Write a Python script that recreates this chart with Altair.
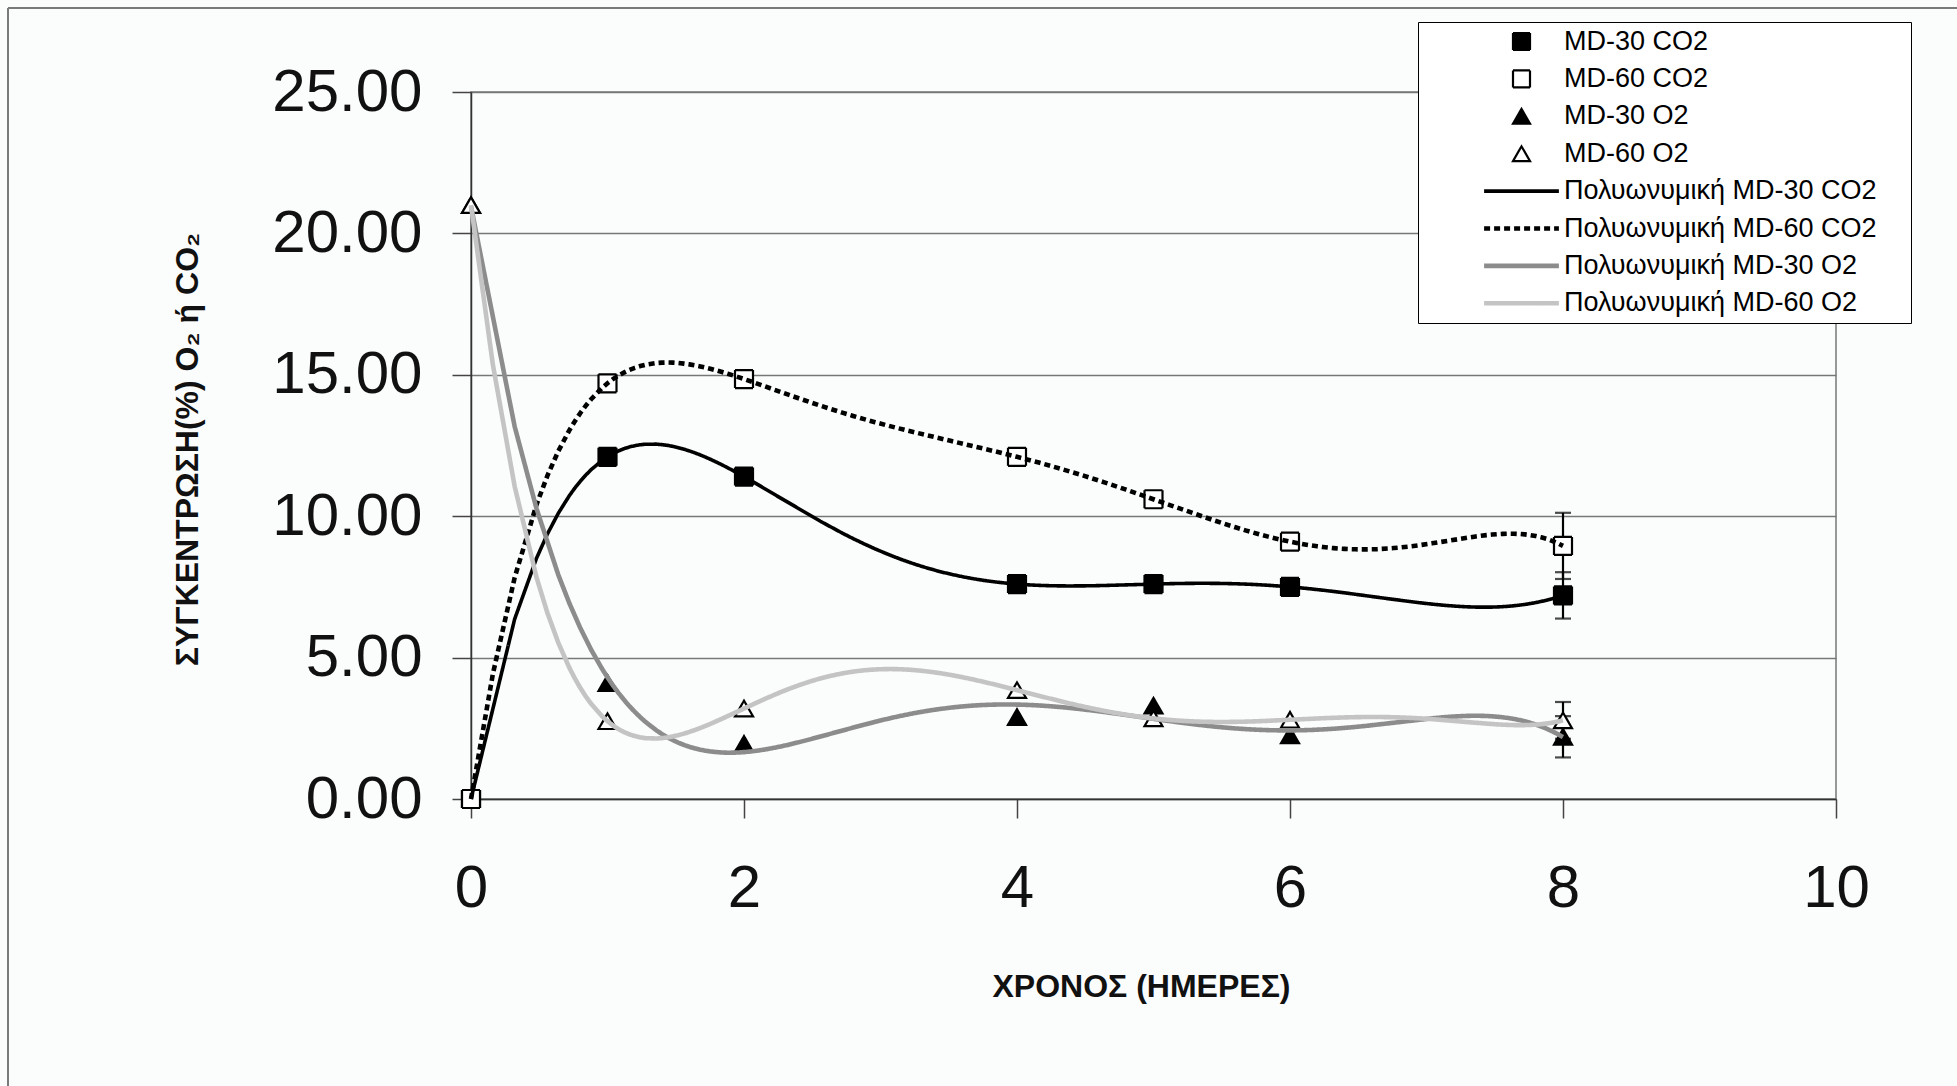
import altair as alt
import pandas as pd

# Measurement days and gas concentrations (%) for the two packaging films
days = [0, 1, 2, 4, 5, 6, 8]
md30_co2 = [0.0, 12.1, 11.4, 7.6, 7.6, 7.5, 7.2]
md60_co2 = [0.0, 14.7, 14.85, 12.1, 10.6, 9.1, 8.95]
md30_o2 = [21.0, 4.1, 1.95, 2.9, 3.3, 2.25, 2.2]
md60_o2 = [21.0, 2.75, 3.2, 3.85, 2.85, 2.8, 2.78]

# standard deviation, reported for the last day only
err_last_day = {"MD-30 CO2": 0.82, "MD-60 CO2": 1.17, "MD-30 O2": 0.73, "MD-60 O2": 0.65}

series_names = ["MD-30 CO2", "MD-60 CO2", "MD-30 O2", "MD-60 O2"]
series_values = [md30_co2, md60_co2, md30_o2, md60_o2]
trend_names = ["Πολυωνυμική " + s for s in series_names]
poly_order = {"MD-30 CO2": 6, "MD-60 CO2": 6, "MD-30 O2": 5, "MD-60 O2": 6}

rows = []
for name, vals in zip(series_names, series_values):
    for d, v in zip(days, vals):
        rows.append({"series": name, "day": d, "value": v,
                     "err": err_last_day[name] if d == days[-1] else 0.0})
df = pd.DataFrame(rows)

ALL = series_names + trend_names
# trend entries in the legend are drawn as a horizontal stroke
line_glyph = "M-4.4,0H4.4"
shape_range = ["square", "square", "triangle-up", "triangle-up"] + [line_glyph] * 4
fill_range = ["black", "white", "black", "white"] + ["transparent"] * 4
stroke_range = ["black"] * 4 + ["black", "black", "#8c8c8c", "#c4c4c4"]
dash_range = [[1, 0]] * 4 + [[1, 0], [6, 4], [1, 0], [1, 0]]
width_range = [2.2] * 4 + [3.6, 4.6, 4.6, 4.6]

FONT = "Liberation Sans"
X_TITLE = "ΧΡΟΝΟΣ (ΗΜΕΡΕΣ)"
Y_TITLE = "ΣΥΓΚΕΝΤΡΩΣΗ(%) O₂ ή CO₂"

# a trailing blank glyph keeps some room between the labels and the legend border
leg = alt.Legend(
    title=None, orient="none", legendX=947, legendY=-70,
    strokeColor="black", fillColor="white", padding=6,
    labelFont=FONT, labelFontSize=27, labelColor="black", labelLimit=0,
    labelExpr="datum.label + '\u00a0\u2800'",
    symbolOffset=84, labelOffset=29, rowPadding=9.4, symbolSize=289,
)

x_scale = alt.Scale(domain=[0, 10], nice=False, zero=False)
y_scale = alt.Scale(domain=[0, 25], nice=False)

x_axis = alt.Axis(
    values=[0, 2, 4, 6, 8, 10], format="d", grid=False,
    labelFont=FONT, labelFontSize=60, labelColor="#111", labelPadding=70,
    labelBaseline="middle", labelFlush=False, labelOverlap=False,
    tickSize=19, tickColor="#444", tickWidth=1.5,
    domainColor="#333", domainWidth=1.5,
    titleFont=FONT, titleFontSize=32, titleFontWeight="bold", titleColor="#111",
    titleX=670, titleY=187, titleAlign="center", titleBaseline="middle",
)
y_axis = alt.Axis(
    values=[0, 5, 10, 15, 20, 25], format=".2f", grid=True,
    gridColor="#777", gridWidth=1.5,
    labelFont=FONT, labelFontSize=60, labelColor="#111", labelPadding=30,
    labelBaseline="middle", labelFlush=False, labelOverlap=False,
    tickSize=19, tickColor="#444", tickWidth=1.5,
    domainColor="#333", domainWidth=1.5,
    titleFont=FONT, titleFontSize=32, titleFontWeight="bold", titleColor="#111",
    titleAngle=270, titleX=-284, titleY=357, titleAlign="center", titleBaseline="middle",
)


def xy(yfield="value"):
    return dict(
        x=alt.X("day:Q", scale=x_scale, axis=x_axis, title=X_TITLE),
        y=alt.Y(f"{yfield}:Q", scale=y_scale, axis=y_axis, title=Y_TITLE),
    )


def ordinal(rng):
    return alt.Scale(type="ordinal", domain=ALL, range=rng)


def style_channels(with_markers):
    enc = dict(
        stroke=alt.Stroke("series:N", scale=ordinal(stroke_range), legend=leg),
        strokeDash=alt.StrokeDash("series:N", scale=ordinal(dash_range), legend=leg),
        strokeWidth=alt.StrokeWidth("series:N", scale=ordinal(width_range), legend=leg),
    )
    if with_markers:
        enc["shape"] = alt.Shape("series:N", scale=ordinal(shape_range), legend=leg)
        enc["fill"] = alt.Fill("series:N", scale=ordinal(fill_range), legend=leg)
    return enc


base = alt.Chart(df)

# error bars on the final measurement
errbars = (
    base.transform_filter("datum.err > 0")
    .transform_calculate(lo="datum.value - datum.err", hi="datum.value + datum.err")
    .mark_errorbar(ticks={"size": 16, "thickness": 2.2}, rule={"strokeWidth": 2.2}, color="black")
    .encode(
        x=alt.X("day:Q", scale=x_scale, axis=x_axis, title=X_TITLE),
        y=alt.Y("lo:Q", scale=y_scale, axis=y_axis, title=Y_TITLE),
        y2=alt.Y2("hi:Q"),
    )
)

points = base.mark_point(size=324, opacity=1).encode(**xy(), **style_channels(True))

# polynomial trend line per series
trends = []
for name in series_names:
    trends.append(
        base.transform_filter(alt.datum.series == name)
        .transform_regression("day", "value", method="poly", order=poly_order[name],
                              extent=[0, 8], groupby=["series"])
        .transform_calculate(series="'Πολυωνυμική ' + datum.series")
        .mark_line(strokeCap="butt")
        .encode(**xy(), **style_channels(False))
    )

# chart-area border (top and left edges)
frame_src = alt.Data(values=[{"edge": "frame"}])
frame_left = alt.Chart(frame_src).mark_rule(color="#7a7a7a", strokeWidth=2).encode(
    x=alt.value(-463), y=alt.value(-84), y2=alt.value(994))
frame_top = alt.Chart(frame_src).mark_rule(color="#7a7a7a", strokeWidth=2).encode(
    x=alt.value(-463), x2=alt.value(1486), y=alt.value(-84))

chart = (
    alt.layer(errbars, points, *trends, frame_left, frame_top)
    .properties(
        width=1365, height=707,
        autosize=alt.AutoSizeParams(type="none"),
        padding={"left": 471, "top": 92, "right": 121, "bottom": 287},
        background="#fbfcfc",
    )
    .configure_view(stroke="#777", strokeWidth=1.5)
)

chart.save("out.html", embed_options={"renderer": "svg", "actions": False})
